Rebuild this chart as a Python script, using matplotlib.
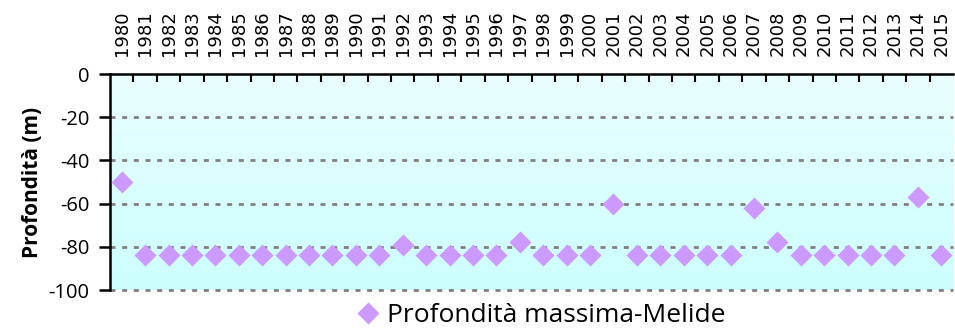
import numpy as np
import matplotlib
matplotlib.use("Agg")
import matplotlib.pyplot as plt
from matplotlib.colors import LinearSegmentedColormap
from matplotlib.lines import Line2D

# Maximum depth at Melide, by year
years = list(range(1980, 2016))
depth = [-50, -84, -84, -84, -84, -84, -84, -84, -84, -84, -84, -84,
         -79, -84, -84, -84, -84, -78, -84, -84, -84, -60, -84, -84,
         -84, -84, -84, -62, -78, -84, -84, -84, -84, -84, -57, -84]
y_ticks = [0, -20, -40, -60, -80, -100]

series_name = "Profondità massima-Melide"
y_label = "Profondità (m)"

fig = plt.figure(figsize=(9.55, 3.31), dpi=100)
ax = fig.add_axes([110 / 955, 1 - 290 / 331, 843 / 955, 216 / 331])

x = np.arange(len(years))
ax.set_xlim(-0.5, len(years) - 0.5)
ax.set_ylim(-100, 0)

# vertical gradient fill behind the plot area
grad = np.linspace(0, 1, 256).reshape(-1, 1)
cmap = LinearSegmentedColormap.from_list("bg", ["#EAFEFE", "#CCFFFF"])
ax.imshow(grad, extent=[0, 1, 0, 1], transform=ax.transAxes, aspect="auto",
          cmap=cmap, zorder=0, interpolation="bilinear")

# dashed gridlines
for v in y_ticks[1:]:
    ax.axhline(v, color="#808080", lw=2.0, linestyle=(0, (1.8, 2.4)),
               dash_capstyle="butt", zorder=1, clip_on=False)

marker_style = dict(linestyle="none", marker="D", ms=11.5, mfc="#CC99FF",
                    mec="none")
ax.plot(x, depth, zorder=3, clip_on=False, **marker_style)

for side in ["right", "bottom"]:
    ax.spines[side].set_visible(False)
ax.spines["left"].set_linewidth(1.8)
ax.spines["top"].set_linewidth(1.8)

# category axis on top
ax.xaxis.set_ticks_position("top")
ax.xaxis.set_label_position("top")
ax.set_xticks(x)
ax.set_xticklabels([str(y) for y in years], rotation=90,
                   fontfamily="DejaVu Sans", fontsize=13)
ax.tick_params(axis="x", which="major", length=0, pad=13)
ax.set_xticks(np.arange(0.5, len(years) - 0.5, 1), minor=True)
ax.tick_params(axis="x", which="minor", direction="in", length=6, width=1.5,
               top=True, bottom=False)

ax.set_yticks(y_ticks)
ax.set_yticklabels([str(v) for v in y_ticks], fontfamily="Open Sans",
                   fontsize=14.5)
ax.tick_params(axis="y", direction="out", length=8, width=1.8, pad=7)
ax.set_ylabel(y_label, fontfamily="Open Sans", fontweight="bold",
              fontsize=15, labelpad=4)

handle = Line2D([], [], **marker_style)
fig.legend([handle], [series_name], loc="center",
           bbox_to_anchor=(543 / 955, 1 - 316 / 331), frameon=False,
           prop={"family": "Open Sans", "size": 19}, handlelength=0.6,
           handletextpad=0.4, borderpad=0)

fig.savefig("out.png", dpi=100)
